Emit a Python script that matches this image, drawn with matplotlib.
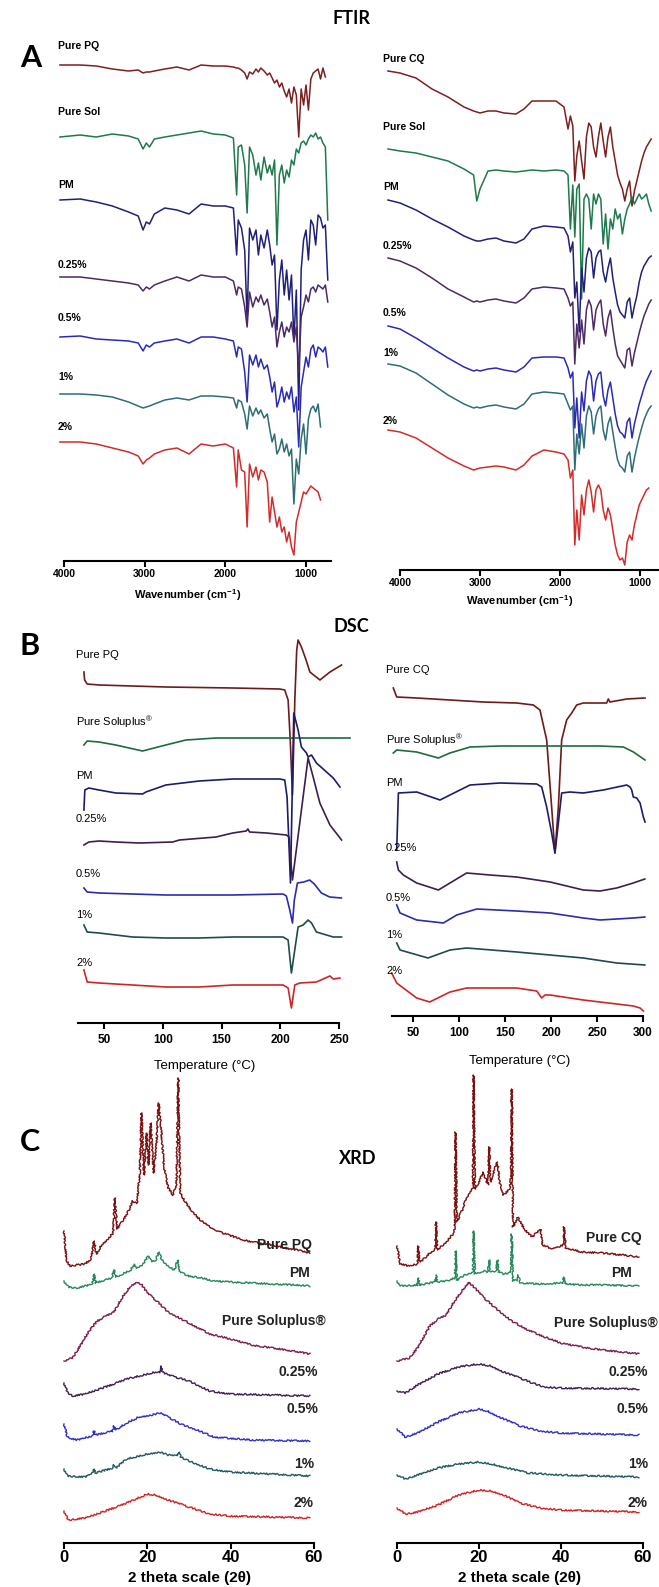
# %%
import numpy as np
import matplotlib.pyplot as plt

plt.rcParams['font.family'] = ['Liberation Sans', 'DejaVu Sans']
plt.rcParams['mathtext.default'] = 'regular'

W, H = 659, 1587  # output size in px
nan = np.nan

# %%
# FTIR, left (PQ series) - drops of transmittance, a.u.
ftir_wn_l = [4050, 3800, 3600, 3400, 3200, 3080, 3020, 2980, 2940, 2880, 2750, 2600, 2450, 2300,
             2150, 2000, 1900, 1860, 1840, 1800, 1760, 1730, 1700, 1660, 1620, 1590, 1560, 1520,
             1480, 1450, 1420, 1390, 1360, 1330, 1300, 1270, 1240, 1210, 1180, 1150, 1120, 1090,
             1060, 1030, 1000, 970, 940, 910, 880, 850, 820, 790, 760, 730]
ftir_pq = [0, 0, 1, 4, 6, 5, 8, 7, 7, 6, 4, 2, 5, 0, 1, 1, 2, 3, 3, 5, 8, 14, 7, 9, 4, 7, 3, 6,
           10, 8, 13, 18, 15, 22, 18, 26, 32, 24, 38, 22, 30, 72, 24, 40, 20, 45, 14, 8, 6, 4, 14, 3, 12, nan]
ftir_sol_l = [2, 0, 2, -1, 1, 4, 14, 8, 12, 4, 2, 0, -2, -4, -1, 0, 3, 60, 12, 10, 30, 78, 12, 20, 40, 28, 45, 22,
              38, 30, 40, 25, 110, 40, 30, 48, 35, 42, 25, 30, 14, 18, 8, 6, 10, 4, 0, 2, -2, 4, 2, 8, 12, 85]
ftir_pm_l = [0, -1, 2, 6, 12, 16, 30, 22, 24, 14, 8, 10, 14, 4, 6, 6, 8, 55, 20, 28, 50, 120, 28, 40, 30, 55, 35, 48,
             30, 45, 65, 55, 130, 80, 60, 95, 70, 100, 75, 140, 90, 210, 70, 40, 30, 60, 20, 25, 45, 15, 18, 28, 25, 80]
ftir_025_l = [0, 0, 2, 4, 6, 8, 14, 10, 12, 8, 4, 0, 4, -2, 0, 0, 4, 18, 10, 12, 30, 50, 15, 30, 20, 25, 18, 28,
              22, 35, 50, 40, 70, 55, 45, 60, 50, 55, 45, 65, 50, 95, 40, 30, 18, 25, 12, 10, 15, 8, 10, 12, 8, 25]
ftir_05_l = [0, -1, 2, 3, 4, 6, 14, 8, 10, 6, 4, 2, 6, 0, 0, 2, 4, 20, 10, 12, 35, 65, 18, 28, 18, 30, 22, 32,
             28, 40, 55, 45, 70, 62, 50, 65, 55, 62, 50, 75, 60, 110, 50, 35, 20, 30, 12, 8, 20, 10, 12, 15, 10, 30]
ftir_1_l = [0, 0, 1, 3, 8, 12, 14, 13, 12, 10, 6, 4, 6, 2, 2, 3, 4, 14, 6, 8, 20, 35, 12, 22, 14, 20, 16, 24,
            20, 35, 48, 40, 60, 55, 45, 58, 50, 62, 55, 110, 65, 80, 45, 30, 60, 25, 15, 12, 18, 10, 33, nan, nan, nan]
ftir_2_l = [0, 0, 2, 6, 10, 14, 22, 18, 16, 12, 8, 6, 12, 2, 4, 2, 6, 45, 8, 28, 30, 85, 22, 35, 25, 38, 28, 30,
            40, 80, 55, 70, 85, 75, 90, 85, 100, 90, 105, 113, 80, 70, 60, 50, 52, 48, 44, 46, 48, 50, 58, nan, nan, nan]

# FTIR, right (CQ series)
ftir_wn_r = [4150, 4000, 3800, 3600, 3400, 3200, 3080, 3040, 3000, 2900, 2800, 2700, 2550, 2450, 2350,
             2200, 2050, 1950, 1900, 1870, 1840, 1815, 1790, 1760, 1730, 1700, 1670, 1640, 1610, 1580,
             1550, 1520, 1490, 1460, 1430, 1400, 1370, 1340, 1310, 1280, 1250, 1220, 1190, 1160, 1130,
             1100, 1070, 1040, 1010, 980, 950, 920, 890, 860, 830]
ftir_cq = [0, 2, 7, 18, 26, 36, 40, 41, 42, 40, 40, 42, 43, 38, 30, 30, 30, 36, 58, 45, 55, 110, 85, 70, 90,
           108, 66, 52, 56, 76, 86, 66, 52, 70, 86, 66, 56, 76, 90, 104, 112, 118, 130, 118, 110, 135, 120,
           110, 100, 90, 82, 76, 72, 68, nan]
ftir_sol_r = [0, 2, 4, 8, 12, 20, 26, 52, 40, 22, 21, 22, 23, 22, 21, 22, 21, 22, 26, 80, 36, 88, 40, 35, 150,
              50, 45, 50, 80, 45, 55, 45, 50, 95, 65, 100, 70, 80, 60, 70, 65, 85, 70, 60, 55, 48, 55, 50, 45,
              50, 48, 45, 55, 62, nan]
ftir_pm_r = [0, 3, 10, 19, 27, 36, 40, 41, 41, 39, 38, 41, 43, 39, 29, 26, 27, 28, 36, 52, 42, 98, 82, 132, 68,
             92, 58, 48, 52, 78, 58, 52, 50, 72, 82, 68, 58, 78, 92, 105, 112, 115, 118, 102, 98, 118, 106,
             96, 82, 72, 66, 62, 58, 56, nan]
ftir_025_r = [0, 3, 10, 20, 31, 39, 44, 43, 44, 42, 41, 43, 45, 40, 31, 29, 30, 31, 40, 48, 44, 106, 66, 90, 62,
              86, 52, 42, 48, 72, 52, 46, 42, 66, 78, 60, 52, 70, 86, 98, 102, 106, 110, 92, 90, 108, 95, 85,
              75, 66, 58, 52, 46, 42, nan]
ftir_05_r = [0, 3, 12, 22, 32, 41, 45, 44, 45, 43, 42, 44, 46, 41, 32, 31, 31, 32, 42, 52, 46, 102, 72, 112, 66,
             85, 55, 45, 50, 75, 55, 48, 46, 70, 80, 64, 56, 72, 88, 100, 106, 108, 112, 96, 92, 112, 98, 88,
             78, 70, 62, 55, 50, 45, nan]
ftir_1_r = [0, 2, 9, 20, 31, 40, 44, 43, 44, 42, 41, 43, 45, 40, 30, 28, 29, 30, 40, 46, 42, 106, 70, 90, 60,
            84, 52, 42, 48, 70, 52, 45, 42, 66, 76, 60, 53, 68, 83, 96, 102, 104, 108, 92, 88, 108, 94, 83,
            73, 64, 56, 50, 45, 42, nan]
ftir_2_r = [0, 2, 8, 18, 28, 36, 40, 39, 38, 37, 36, 37, 40, 35, 26, 20, 22, 24, 30, 48, 40, 115, 80, 110, 65,
            85, 60, 50, 62, 82, 60, 55, 60, 80, 90, 78, 85, 100, 115, 125, 130, 128, 135, 112, 105, 110, 95,
            85, 75, 70, 65, 60, 58, nan, nan]

ftir_names_l = ['Pure PQ', 'Pure Sol', 'PM', '0.25%', '0.5%', '1%', '2%']
ftir_names_r = ['Pure CQ', 'Pure Sol', 'PM', '0.25%', '0.5%', '1%', '2%']

# %%
# DSC (stacked heat flow, a.u., endo down)
dsc_pq_t = [32.9, 33.5, 35.7, 45.7, 102.6, 159.6, 199.6, 203.8, 206.7, 208.5, 210.4, 212.4, 214, 215.2, 218,
            222, 225.2, 233.8, 242.3, 252.2]
dsc_pq_y = [672, 680, 684, 685, 687, 688, 689, 690, 700, 740, 795, 700, 650, 640, 647, 660, 672, 680, 672, 665]
dsc_sol_t = [32.9, 35.7, 45.7, 60, 82.8, 102.6, 119.8, 145.4, 188.2, 259.4]
dsc_sol_y = [745, 741, 742, 745, 751, 745, 740, 738, 738, 738]
dsc_pm_t = [32.9, 33.7, 37.1, 45.7, 60, 82.8, 85.7, 102.6, 131.1, 159.6, 199.6, 203.8, 205.8, 208.7, 211.5,
            215.2, 218, 222.3, 223.7, 226.6, 230.8, 245.1, 250.8]
dsc_pm_y = [810, 790, 788, 790, 793, 794, 792, 785, 781, 779, 779, 780, 797, 883, 713, 730, 747, 753, 757, 755,
            763, 778, 787]
dsc_025_t = [32.9, 37.1, 45.7, 60, 80, 108.5, 114.2, 145.4, 159.6, 171, 172.5, 173.9, 188.2, 205.2, 207.5, 208.7,
             210.4, 216.6, 223.7, 228, 233.7, 242.3, 252.2]
dsc_025_y = [845, 842, 841, 842, 843, 842, 840, 837, 833, 831, 829, 832, 833, 835, 837, 857, 880, 823, 758, 777,
             803, 825, 840]
dsc_05_t = [32.9, 35.7, 45.7, 102.6, 159.6, 202.4, 205.2, 208.1, 210.4, 212, 214.6, 220, 225, 229, 235, 242, 252]
dsc_05_y = [888, 892, 893, 895, 895, 894, 896, 910, 923, 900, 883, 882, 880, 884, 893, 897, 898]
dsc_1_t = [32.9, 35.7, 45.7, 74.2, 102.6, 131.1, 159.6, 202.4, 206.7, 209.5, 215.2, 219.5, 223.7, 226.6, 230.8,
           245.1, 252.2]
dsc_1_y = [925, 932, 933, 937, 938, 938, 937, 937, 940, 973, 927, 925, 920, 923, 932, 937, 937]
dsc_2_t = [32.9, 35.7, 45.7, 74.2, 102.6, 131.1, 159.6, 202.4, 206.7, 209.5, 212.4, 216.6, 230.8, 242.3, 245.1, 250.8]
dsc_2_y = [970, 982, 983, 985, 987, 987, 985, 985, 988, 1008, 985, 983, 982, 976, 979, 978]

dsc_cq_t = [28.6, 32.3, 54, 90.2, 126.4, 162.7, 180.8, 188, 195.3, 200.7, 204.3, 208, 211.6, 217, 222.5, 227.9,
            235.1, 260.5, 262.3, 264.1, 282.3, 302.2]
dsc_cq_y = [688, 697, 698, 700, 702, 703, 705, 710, 740, 807, 853, 807, 740, 720, 713, 705, 703, 703, 699, 702, 699, 698]
dsc_solr_t = [28.6, 32.3, 54, 77.6, 90.2, 112, 144.6, 199, 253.3, 278.7, 289.6, 302.2]
dsc_solr_y = [753, 750, 752, 758, 753, 747, 746, 746, 746, 747, 752, 760]
dsc_pmr_t = [32.3, 34.1, 54, 79.4, 90.2, 112, 144.6, 184.5, 189.9, 195.3, 200.7, 204.3, 208, 211.6, 220.6, 235.1,
             256.8, 282.3, 285.9, 287.7, 289.5, 293.2, 296.8, 300.4, 302.2]
dsc_pmr_y = [850, 793, 792, 800, 795, 785, 783, 784, 787, 807, 833, 853, 823, 793, 792, 793, 790, 785, 787, 790,
             797, 798, 803, 817, 822]
dsc_025r_t = [32.3, 34.1, 39.5, 54, 77.6, 90.2, 108.3, 133.7, 162.7, 199, 235.1, 253.3, 271.4, 289.5, 302]
dsc_025r_y = [862, 870, 875, 883, 890, 883, 873, 875, 877, 882, 890, 891, 888, 883, 879]
dsc_05r_t = [32.3, 35.9, 54, 83, 97.5, 119.3, 162.7, 199, 235.1, 253.3, 289.5, 302]
dsc_05r_y = [905, 913, 920, 923, 915, 909, 911, 913, 918, 920, 918, 917]
dsc_1r_t = [32.3, 35.9, 66.3, 90.2, 108.3, 162.7, 199, 235.1, 271.4, 302]
dsc_1r_y = [943, 950, 958, 950, 948, 952, 955, 958, 963, 965]
dsc_2r_t = [26.8, 32.3, 54, 68.1, 90.2, 108.3, 162.7, 184.5, 189.9, 193.5, 199, 235.1, 271.4, 289.5, 296.8, 300.4]
dsc_2r_y = [973, 983, 998, 1002, 992, 988, 988, 991, 998, 995, 995, 1000, 1004, 1006, 1008, 1011]

# %%
# XRD (intensity above each trace baseline, a.u.)
xrd_pq_x = [0, 0.6, 1.5, 3, 5, 6.5, 7.2, 7.8, 9, 10.5, 11.8, 12.2, 12.8, 14, 15.5, 16.5, 17.5, 18.2, 18.6, 19.2,
            19.8, 20.3, 20.8, 21.5, 22.2, 22.7, 23.3, 24, 25, 26.2, 27, 27.4, 27.9, 29, 31, 33, 35, 38, 41, 44,
            47, 50, 53, 56, 59]
xrd_pq_y = [22, -8, -13, -12, -11, -6, 12, -1, 8, 14, 20, 55, 24, 32, 42, 52, 50, 80, 140, 78, 120, 88, 130, 80,
            110, 150, 125, 85, 65, 58, 70, 175, 60, 52, 40, 32, 26, 20, 16, 12, 10, 8, 5, 3, 0]
xrd_pm_x = [0, 1, 3, 5, 6.8, 7.2, 7.6, 9, 11.5, 12, 12.5, 14, 16, 16.8, 17.5, 19, 20.2, 21, 22, 22.8, 23.5, 25,
            26.5, 27.3, 27.8, 30, 33, 36, 40, 45, 50, 55, 59]
xrd_pm_y = [5, -1, -2, 0, 2, 12, 3, 5, 8, 16, 9, 12, 16, 22, 18, 22, 30, 24, 26, 34, 26, 20, 16, 26, 14, 10, 8, 5,
            4, 3, 2, 1, 0]
xrd_sol_x = [0, 2, 4, 6, 8, 10, 12, 14, 16, 17.5, 18.5, 20, 22, 25, 30, 35, 40, 45, 50, 55, 59]
xrd_sol_y = [-7, -4, 9, 23, 33, 38, 42, 57, 68, 72, 70, 61, 54, 42, 31, 20, 15, 9, 6, 3, 0]
xrd_025_x = [0, 0.8, 2, 5, 10, 15, 20, 22, 23, 23.3, 23.6, 25, 30, 35, 40, 50, 59]
xrd_025_y = [13, 4, 0, 2, 9, 17, 22, 24, 24, 30, 24, 21, 15, 5, 2, 1, 0]
xrd_05_x = [0, 0.8, 3, 6.8, 7.2, 7.6, 11.6, 12, 12.4, 15, 18, 21, 23, 25, 28, 32, 36, 45, 59]
xrd_05_y = [17, 4, 1, 5, 10, 6, 10, 15, 11, 18, 24, 26, 28, 24, 17, 11, 4, 1, 0]
xrd_1_x = [0, 0.8, 5, 6.8, 7.2, 7.6, 11.6, 12, 12.4, 15, 20, 23, 25, 27.2, 27.6, 28, 30, 35, 40, 59]
xrd_1_y = [7, 0, -1, 3, 7, 3, 8, 11, 8, 17, 22, 24, 21, 20, 24, 19, 15, 7, 4, 0]
xrd_2_x = [0, 1, 5, 10, 15, 20, 22, 25, 30, 35, 40, 50, 59]
xrd_2_y = [7, -2, 0, 7, 15, 24, 23, 18, 11, 4, 2, 1, 0]

xrd_cq_x = [0, 0.8, 3, 5, 5.2, 5.5, 6, 8, 9.3, 9.5, 9.8, 12, 14, 14.1, 14.3, 14.6, 16, 17, 18, 18.5, 18.7, 19, 20,
            21, 22.2, 22.5, 22.8, 24, 24.5, 25, 26, 27.5, 27.8, 28, 28.3, 29.5, 31, 33, 35, 35.5, 38, 40.5, 40.7,
            41.2, 45, 50, 55, 59]
xrd_cq_y = [11, -7, -9, -7, 11, -5, -4, 4, 8, 35, 7, 15, 25, 45, 125, 35, 48, 60, 65, 70, 182, 68, 75, 85, 72, 110,
            75, 90, 95, 75, 62, 68, 80, 168, 30, 40, 28, 20, 28, 12, 8, 12, 30, 9, 5, 4, 2, 0]
xrd_pmr_x = [0, 0.8, 5, 5.2, 5.5, 9.3, 9.5, 9.8, 12, 14.1, 14.3, 14.6, 16.5, 18, 18.5, 18.7, 19, 21, 22.2, 22.5,
             22.8, 24.2, 24.5, 24.8, 26, 27.5, 27.8, 28, 28.3, 29.3, 29.6, 30, 35, 40.4, 40.7, 41, 45, 50, 59]
xrd_pmr_y = [5, 0, 1, 8, 1, 4, 11, 4, 5, 8, 35, 6, 11, 13, 14, 55, 12, 15, 14, 26, 14, 15, 26, 14, 12, 13, 14, 52,
             5, 6, 11, 3, 2, 3, 9, 2, 1, 1, 0]
xrd_solr_x = [0, 3, 5, 8, 10, 12, 14, 16, 17.5, 19, 21, 24, 28, 32, 36, 40, 45, 50, 55, 59]
xrd_solr_y = [-7, -4, 6, 28, 35, 39, 53, 64, 72, 66, 57, 46, 33, 24, 17, 11, 7, 4, 2, 0]
xrd_025r_x = [0, 2, 5, 10, 15, 18, 20, 23, 26, 30, 33, 36, 40, 59]
xrd_025r_y = [-2, -4, 4, 15, 22, 24, 25, 23, 17, 11, 6, 2, 1, 0]
xrd_05r_x = [0, 2, 5, 10, 15, 20, 22, 25, 30, 35, 40, 59]
xrd_05r_y = [6, -2, 2, 13, 22, 26, 24, 18, 9, 4, 2, 0]
xrd_1r_x = [0, 2, 5, 10, 15, 20, 23, 27, 32, 40, 59]
xrd_1r_y = [2, -2, 2, 9, 13, 15, 13, 9, 4, 2, 0]
xrd_2r_x = [0, 2, 5, 10, 15, 20, 23, 26, 30, 35, 40, 59]
xrd_2r_y = [4, -2, 0, 7, 17, 22, 21, 17, 9, 4, 2, 0]

xrd_names_l = ['Pure PQ', 'PM', 'Pure Soluplus®', '0.25%', '0.5%', '1%', '2%']
xrd_names_r = ['Pure CQ', 'PM', 'Pure Soluplus®', '0.25%', '0.5%', '1%', '2%']

# %%
fig = plt.figure(figsize=(W / 100, H / 100), dpi=100)


def panel(x0, x1, y0, y1, v0, p0, v1, p1):
    # axes over a pixel box; value v0 sits at pixel p0, v1 at p1
    ax = fig.add_axes([x0 / W, 1 - y1 / H, (x1 - x0) / W, (y1 - y0) / H])
    k = (v1 - v0) / (p1 - p0)
    ax.set_xlim(v0 + (x0 - p0) * k, v0 + (x1 - p0) * k)
    ax.set_ylim(y1, y0)
    for s in ['left', 'right', 'top']:
        ax.spines[s].set_visible(False)
    ax.spines['bottom'].set_linewidth(1.5)
    ax.set_yticks([])
    ax.patch.set_alpha(0)
    return ax


def ftext(x, y, s, **kw):
    kw.setdefault('va', 'center')
    fig.text(x / W, 1 - y / H, s, **kw)


def xaxis(ax, ticks, size, bounds, pad=2):
    ax.spines['bottom'].set_bounds(*bounds)
    ax.set_xticks(ticks, [str(t) for t in ticks], fontweight='bold', fontsize=size)
    ax.tick_params(axis='x', length=4, width=1.5, pad=pad)


c_ftir = ['#7d1f1f', '#1e7a4c', '#20207a', '#4b2a66', '#2a2ab8', '#2e6e73', '#d42a2a']
c_dsc = ['#6e1a1a', '#1f6b3c', '#1c1c6b', '#3b1f4f', '#2b2bb0', '#1e4b4b', '#d02525']
c_xrd = ['#7a1010', '#27885a', '#7a1f4f', '#3f1f55', '#3030c8', '#205a60', '#d42020']

# %%
# A - FTIR
ftext(352, 18, 'FTIR', ha='center', fontsize=13, fontweight='bold', family='Lato')
ftext(20, 58, 'A', fontsize=22, fontweight='bold', family='Lato')

ax = panel(40, 335, 30, 561, 4000, 64, 1000, 306)
base_l = [65, 135, 200, 277, 337, 394, 442]
lab_l = [46, 112, 185, 265, 318, 377, 427]
for d, b, c in zip([ftir_pq, ftir_sol_l, ftir_pm_l, ftir_025_l, ftir_05_l, ftir_1_l, ftir_2_l], base_l, c_ftir):
    ax.plot(ftir_wn_l, b + np.array(d, float), color=c, lw=1.1, clip_on=False)
for n, y in zip(ftir_names_l, lab_l):
    ftext(58, y, n, fontsize=7.5, fontweight='bold')
xaxis(ax, [4000, 3000, 2000, 1000], 7.5, (4000, 690))
ftext(188, 595, 'Wavenumber (cm$^{-1}$)', ha='center', fontsize=8, fontweight='bold')

ax = panel(370, 659, 30, 570, 4000, 400, 1000, 640)
base_r = [71, 149, 200, 258, 326, 364, 430]
lab_r = [59, 127, 187, 246, 313, 353, 421]
for d, b, c in zip([ftir_cq, ftir_sol_r, ftir_pm_r, ftir_025_r, ftir_05_r, ftir_1_r, ftir_2_r], base_r, c_ftir):
    ax.plot(ftir_wn_r, b + np.array(d, float), color=c, lw=1.1, clip_on=False)
for n, y in zip(ftir_names_r, lab_r):
    ftext(383, y, n, fontsize=7.5, fontweight='bold')
xaxis(ax, [4000, 3000, 2000, 1000], 7.5, (4000, 720))
ftext(520, 601, 'Wavenumber (cm$^{-1}$)', ha='center', fontsize=8, fontweight='bold')

# %%
# B - DSC
ftext(351, 627, 'DSC', ha='center', fontsize=13, fontweight='bold', family='Lato')
ftext(20, 646, 'B', fontsize=22, fontweight='bold', family='Lato')

ax = panel(60, 360, 630, 1023, 50, 104, 250, 339)
for t, y, c in zip([dsc_pq_t, dsc_sol_t, dsc_pm_t, dsc_025_t, dsc_05_t, dsc_1_t, dsc_2_t],
                   [dsc_pq_y, dsc_sol_y, dsc_pm_y, dsc_025_y, dsc_05_y, dsc_1_y, dsc_2_y], c_dsc):
    ax.plot(t, y, color=c, lw=1.2, clip_on=False)
dsc_names = ['Pure PQ', 'Pure Soluplus$^{®}$', 'PM', '0.25%', '0.5%', '1%', '2%']
for n, y in zip(dsc_names, [655, 722, 776, 819, 874, 915, 963]):
    ftext(76, y, n, fontsize=8)
xaxis(ax, [50, 100, 150, 200, 250], 8.5, (28, 250), pad=4)
ftext(205, 1066, 'Temperature (°C)', ha='center', fontsize=9.5)

ax = panel(380, 659, 660, 1016, 50, 413, 300, 643)
for t, y, c in zip([dsc_cq_t, dsc_solr_t, dsc_pmr_t, dsc_025r_t, dsc_05r_t, dsc_1r_t, dsc_2r_t],
                   [dsc_cq_y, dsc_solr_y, dsc_pmr_y, dsc_025r_y, dsc_05r_y, dsc_1r_y, dsc_2r_y], c_dsc):
    ax.plot(t, y, color=c, lw=1.2, clip_on=False)
dsc_names[0] = 'Pure CQ'
for n, y in zip(dsc_names, [670, 740, 783, 848, 898, 935, 971]):
    ftext(386, y, n, fontsize=8)
xaxis(ax, [50, 100, 150, 200, 250, 300], 8.5, (27, 300), pad=4)
ftext(520, 1061, 'Temperature (°C)', ha='center', fontsize=9.5)

# %%
# C - XRD
ftext(358, 1158, 'XRD', ha='center', fontsize=13, fontweight='bold', family='Lato')
ftext(20, 1142, 'C', fontsize=22, fontweight='bold', family='Lato')

ax = panel(50, 345, 1060, 1543, 0, 64, 60, 314)
xb_l = [1253, 1286, 1354, 1396, 1441, 1476, 1518]
for x, h, b, c in zip([xrd_pq_x, xrd_pm_x, xrd_sol_x, xrd_025_x, xrd_05_x, xrd_1_x, xrd_2_x],
                      [xrd_pq_y, xrd_pm_y, xrd_sol_y, xrd_025_y, xrd_05_y, xrd_1_y, xrd_2_y], xb_l, c_xrd):
    ln, = ax.plot(x, b - np.array(h, float), color=c, lw=1.0, clip_on=False)
    ln.set_sketch_params(0.8, 3, 3)
for n, y, xr in zip(xrd_names_l, [1245, 1273, 1321, 1372, 1409, 1464, 1503], [312, 310, 326, 318, 318, 314, 314]):
    ftext(xr, y, n, ha='right', fontsize=10, fontweight='bold', color='#222222')
xaxis(ax, [0, 20, 40, 60], 12, (0, 60), pad=1)
ftext(190, 1578, '2 theta scale (2θ)', ha='center', fontsize=11, fontweight='bold')

ax = panel(385, 659, 1060, 1543, 0, 397, 60, 643)
xb_r = [1257, 1286, 1354, 1389, 1435, 1477, 1512]
for x, h, b, c in zip([xrd_cq_x, xrd_pmr_x, xrd_solr_x, xrd_025r_x, xrd_05r_x, xrd_1r_x, xrd_2r_x],
                      [xrd_cq_y, xrd_pmr_y, xrd_solr_y, xrd_025r_y, xrd_05r_y, xrd_1r_y, xrd_2r_y], xb_r, c_xrd):
    ln, = ax.plot(x, b - np.array(h, float), color=c, lw=1.0, clip_on=False)
    ln.set_sketch_params(0.8, 3, 3)
for n, y, xr in zip(xrd_names_r, [1238, 1273, 1323, 1372, 1409, 1464, 1503], [642, 632, 658, 648, 648, 648, 648]):
    ftext(xr, y, n, ha='right', fontsize=10, fontweight='bold', color='#222222')
xaxis(ax, [0, 20, 40, 60], 12, (0, 60), pad=1)
ftext(520, 1578, '2 theta scale (2θ)', ha='center', fontsize=11, fontweight='bold')

fig.savefig('out.png', dpi=100, facecolor='white')
